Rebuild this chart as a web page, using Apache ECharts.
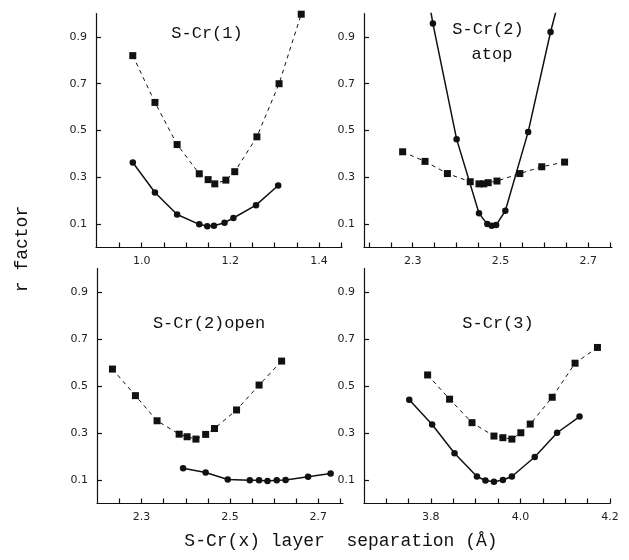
<!DOCTYPE html>
<html>
<head>
<meta charset="utf-8">
<script src="https://cdn.jsdelivr.net/npm/echarts@6/dist/echarts.min.js"></script>
<style>html,body{margin:0;padding:0;background:#fff}#c{width:629px;height:560px}</style>
</head>
<body>
<div id="c"></div>
<script>
// Panel 1: S-Cr(1)
const p1SqX = [0.98, 1.03, 1.08, 1.13, 1.15, 1.165, 1.19, 1.21, 1.26, 1.31, 1.36];
const p1SqY = [0.82, 0.62, 0.44, 0.315, 0.29, 0.272, 0.288, 0.324, 0.473, 0.70, 0.997];
const p1CiX = [0.98, 1.03, 1.08, 1.13, 1.148, 1.163, 1.187, 1.207, 1.258, 1.308];
const p1CiY = [0.363, 0.235, 0.141, 0.099, 0.091, 0.093, 0.106, 0.126, 0.181, 0.265];
// Panel 2: S-Cr(2) atop
const p2SqX = [2.277, 2.328, 2.379, 2.431, 2.451, 2.462, 2.472, 2.492, 2.544, 2.594, 2.646];
const p2SqY = [0.409, 0.368, 0.316, 0.281, 0.272, 0.272, 0.277, 0.284, 0.316, 0.345, 0.365];
const p2CiX = [2.30, 2.346, 2.40, 2.451, 2.47, 2.48, 2.49, 2.511, 2.563, 2.614, 2.66];
const p2CiY = [1.45, 0.957, 0.463, 0.146, 0.10, 0.093, 0.096, 0.157, 0.494, 0.921, 1.25];
// Panel 3: S-Cr(2)open
const p3SqX = [2.234, 2.286, 2.335, 2.385, 2.403, 2.423, 2.445, 2.465, 2.515, 2.566, 2.617];
const p3SqY = [0.572, 0.459, 0.352, 0.295, 0.284, 0.274, 0.294, 0.319, 0.398, 0.504, 0.606];
const p3CiX = [2.394, 2.445, 2.495, 2.545, 2.566, 2.585, 2.606, 2.626, 2.677, 2.728];
const p3CiY = [0.150, 0.132, 0.102, 0.099, 0.099, 0.096, 0.099, 0.100, 0.114, 0.128];
// Panel 4: S-Cr(3)
const p4SqX = [3.793, 3.842, 3.892, 3.941, 3.961, 3.981, 4.001, 4.022, 4.071, 4.122, 4.172];
const p4SqY = [0.547, 0.444, 0.344, 0.287, 0.280, 0.274, 0.301, 0.338, 0.452, 0.597, 0.664];
const p4CiX = [3.752, 3.803, 3.853, 3.903, 3.922, 3.941, 3.961, 3.981, 4.032, 4.082, 4.132];
const p4CiY = [0.441, 0.336, 0.214, 0.115, 0.098, 0.093, 0.100, 0.115, 0.198, 0.301, 0.370];

// Tick labels
const yTicks = [0.1, 0.3, 0.5, 0.7, 0.9];
const p1XTicks = [0.95, 1.0, 1.05, 1.1, 1.15, 1.2, 1.25, 1.3, 1.35, 1.4, 1.45];
const p1XLabels = [1.0, 1.2, 1.4];
const p2XTicks = [2.2, 2.25, 2.3, 2.35, 2.4, 2.45, 2.5, 2.55, 2.6, 2.65, 2.7, 2.75];
const p2XLabels = [2.3, 2.5, 2.7];
const p3XTicks = [2.25, 2.3, 2.35, 2.4, 2.45, 2.5, 2.55, 2.6, 2.65, 2.7, 2.75];
const p3XLabels = [2.3, 2.5, 2.7];
const p4XTicks = [3.7, 3.75, 3.8, 3.85, 3.9, 3.95, 4.0, 4.05, 4.1, 4.15, 4.2];
const p4XLabels = [3.8, 4.0, 4.2];
const panelTitles = ['S-Cr(1)', 'S-Cr(2)', 'atop', 'S-Cr(2)open', 'S-Cr(3)'];
const xTitle = 'S-Cr(x) layer  separation (Å)';
const yTitle = 'r factor';

const zip = (xs, ys) => xs.map((x, i) => [x, ys[i]]);

const panels = [
  {grid: {left: 96, top: 13.5, width: 246, height: 234}, xmin: 0.897, xmax: 1.452, ticks: p1XTicks, labels: p1XLabels, sq: zip(p1SqX, p1SqY), ci: zip(p1CiX, p1CiY)},
  {grid: {left: 364, top: 13.5, width: 248, height: 234}, xmin: 2.189, xmax: 2.754, ticks: p2XTicks, labels: p2XLabels, sq: zip(p2SqX, p2SqY), ci: zip(p2CiX, p2CiY)},
  {grid: {left: 97, top: 268.5, width: 246, height: 235}, xmin: 2.199, xmax: 2.756, ticks: p3XTicks, labels: p3XLabels, sq: zip(p3SqX, p3SqY), ci: zip(p3CiX, p3CiY)},
  {grid: {left: 364, top: 268.5, width: 246, height: 235}, xmin: 3.651, xmax: 4.2, ticks: p4XTicks, labels: p4XLabels, sq: zip(p4SqX, p4SqY), ci: zip(p4CiX, p4CiY)}
];

const labelFont = {fontFamily: 'DejaVu Sans', fontSize: 11, color: '#222'};
const ink = '#111';

const option = {
  animation: false,
  backgroundColor: '#fff',
  grid: panels.map(p => Object.assign({containLabel: false}, p.grid)),
  xAxis: panels.map((p, i) => ({
    type: 'value', gridIndex: i, min: p.xmin, max: p.xmax,
    axisLine: {show: true, onZero: false, lineStyle: {color: ink, width: 1.2}},
    axisTick: {show: true, inside: true, length: 5, customValues: p.ticks, lineStyle: {color: ink, width: 1.2}},
    axisLabel: Object.assign({show: true, margin: 8, customValues: p.labels, formatter: v => v.toFixed(1)}, labelFont),
    splitLine: {show: false}
  })),
  yAxis: panels.map((p, i) => ({
    type: 'value', gridIndex: i, min: 0, max: 1.0,
    axisLine: {show: true, onZero: false, lineStyle: {color: ink, width: 1.2}},
    axisTick: {show: true, inside: true, length: 5, customValues: yTicks, lineStyle: {color: ink, width: 1.2}},
    axisLabel: Object.assign({show: true, margin: 9, customValues: yTicks, formatter: v => v.toFixed(1)}, labelFont),
    splitLine: {show: false}
  })),
  series: panels.flatMap((p, i) => [
    {type: 'line', xAxisIndex: i, yAxisIndex: i, data: p.sq, symbol: 'rect', symbolSize: 7, clip: true,
     itemStyle: {color: ink}, lineStyle: {color: ink, width: 1, type: [4, 4]}},
    {type: 'line', xAxisIndex: i, yAxisIndex: i, data: p.ci, symbol: 'circle', symbolSize: 6.5, clip: true,
     itemStyle: {color: ink}, lineStyle: {color: ink, width: 1.5}}
  ]),
  graphic: [
    {type: 'text', x: 207, y: 33, style: {text: panelTitles[0], font: '17px "Liberation Mono"', fill: ink, textAlign: 'center', textVerticalAlign: 'middle'}},
    {type: 'text', x: 488, y: 29, style: {text: panelTitles[1], font: '17px "Liberation Mono"', fill: ink, textAlign: 'center', textVerticalAlign: 'middle'}},
    {type: 'text', x: 492, y: 54, style: {text: panelTitles[2], font: '17px "Liberation Mono"', fill: ink, textAlign: 'center', textVerticalAlign: 'middle'}},
    {type: 'text', x: 209, y: 323, style: {text: panelTitles[3], font: '17px "Liberation Mono"', fill: ink, textAlign: 'center', textVerticalAlign: 'middle'}},
    {type: 'text', x: 498, y: 323, style: {text: panelTitles[4], font: '17px "Liberation Mono"', fill: ink, textAlign: 'center', textVerticalAlign: 'middle'}},
    {type: 'text', x: 341, y: 541, style: {text: xTitle, font: '18px "Liberation Mono"', fill: ink, textAlign: 'center', textVerticalAlign: 'middle'}},
    {type: 'text', x: 22, y: 249, rotation: Math.PI / 2, style: {text: yTitle, font: '18px "Liberation Mono"', fill: ink, textAlign: 'center', textVerticalAlign: 'middle'}}
  ]
};

const chart = echarts.init(document.getElementById('c'), null, {renderer: 'canvas'});
chart.setOption(option);
</script>
</body>
</html>
